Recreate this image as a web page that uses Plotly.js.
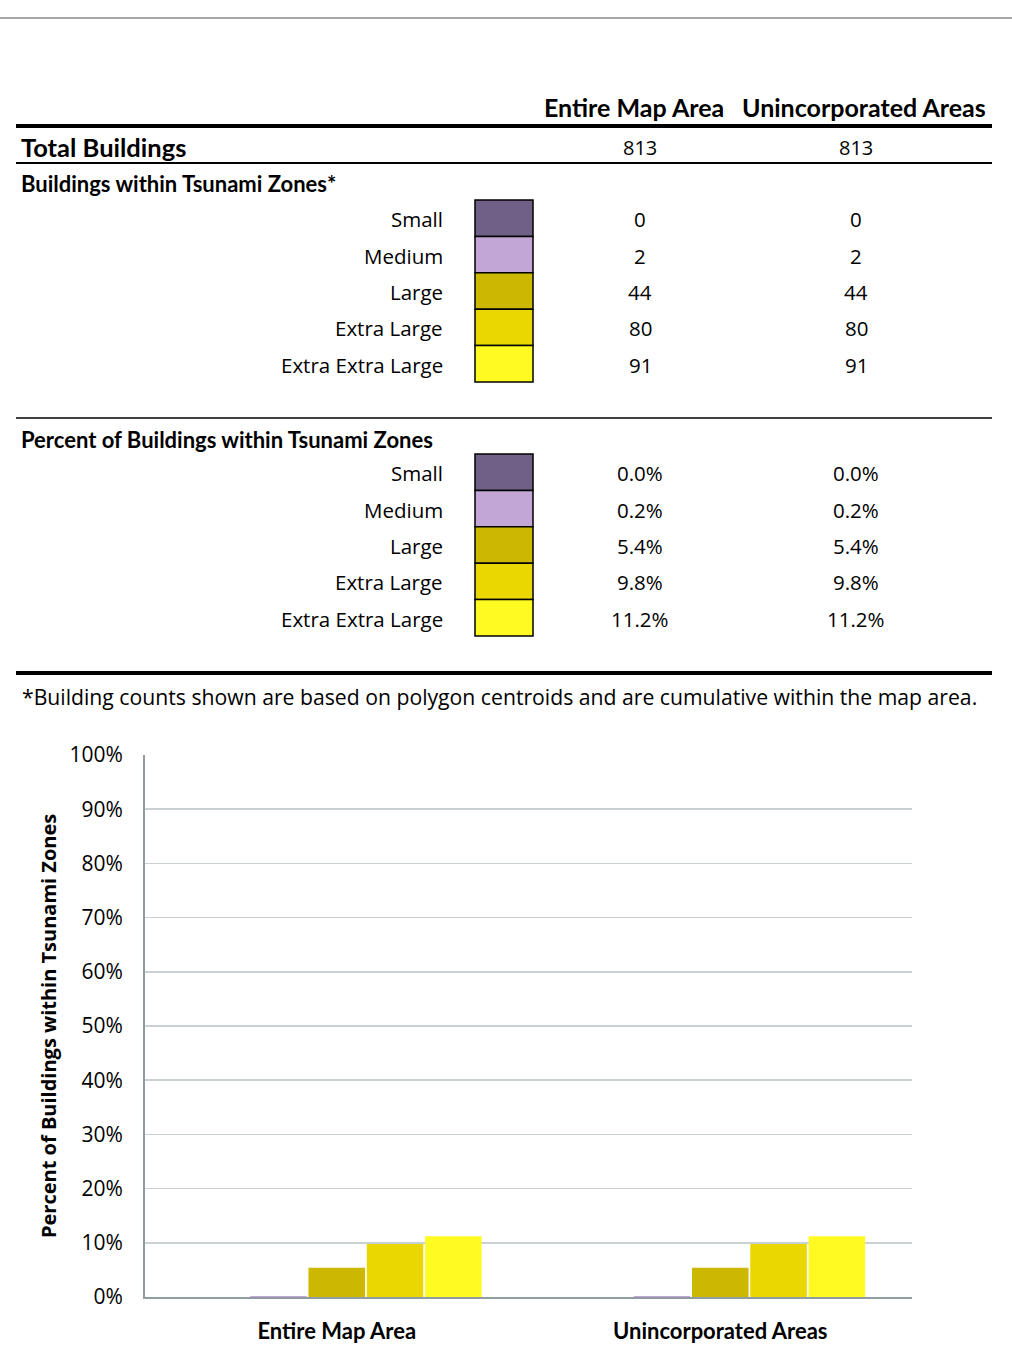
<!DOCTYPE html>
<html>
<head>
<meta charset="utf-8">
<script src="https://cdn.plot.ly/plotly-3.0.1.min.js"></script>
<style>html,body{margin:0;padding:0;background:#fff;}#chart{width:1012px;height:1347px;}</style>
</head>
<body>
<div id="chart"></div>
<script>
// ---- data ----
const areas = ["Entire Map Area", "Unincorporated Areas"];
const sizes = ["Small", "Medium", "Large", "Extra Large", "Extra Extra Large"];
const sizeColors = ["#705F87", "#C2A7D6", "#CCB800", "#EAD600", "#FFFA22"];
const totalBuildings = [813, 813];
const countsEntire = [0, 2, 44, 80, 91];
const countsUninc = [0, 2, 44, 80, 91];
const pctEntire = [0.0, 0.2, 5.4, 9.8, 11.2];
const pctUninc = [0.0, 0.2, 5.4, 9.8, 11.2];
const yTicks = [0, 10, 20, 30, 40, 50, 60, 70, 80, 90, 100];

// ---- layout helpers (pixel -> paper) ----
const W = 1012, H = 1347;
const X = x => x / W;
const Y = y => 1 - y / H;
const BOLD = "Lato, 'Open Sans', sans-serif";
const REG = "'Open Sans', Lato, sans-serif";

const traces = sizes.map((s, i) => ({
  type: "bar",
  name: s,
  x: areas,
  y: [pctEntire[i], pctUninc[i]],
  marker: { color: sizeColors[i] },
  hoverinfo: "x+y+name"
}));

const shapes = [];
const annotations = [];
function hline(y, x0, x1, w, c) {
  shapes.push({ type: "line", xref: "paper", yref: "paper", x0: X(x0), x1: X(x1), y0: Y(y), y1: Y(y), line: { color: c, width: w } });
}
function txt(text, x, y, size, anchor, bold, extra, fam) {
  annotations.push(Object.assign({
    xref: "paper", yref: "paper", x: X(x), y: Y(y), text: text, showarrow: false,
    xanchor: anchor, yanchor: "middle", borderpad: 0,
    font: { family: fam || (bold ? BOLD : REG), size: size, color: "#000", weight: bold ? "bold" : "normal" }
  }, extra || {}));
}

hline(18, 0, 1012, 1.5, "#8a8a8a");
txt(areas[0], 634, 107, 25, "center", true);
txt(areas[1], 864, 107, 25, "center", true);
hline(126, 16, 992, 4, "#000");
txt("Total Buildings", 20, 147, 25.5, "left", true);
txt(String(totalBuildings[0]), 640, 148, 20, "center", false);
txt(String(totalBuildings[1]), 856, 148, 20, "center", false);
hline(163, 16, 992, 2, "#000");
txt("Buildings within Tsunami Zones*", 20, 184, 22, "left", true);

function block(top, v1, v2) {
  const rh = 36.4;
  sizes.forEach((s, i) => {
    const cy = top + rh * i + rh / 2 + 1;
    shapes.push({ type: "rect", xref: "paper", yref: "paper", x0: X(475), x1: X(533), y0: Y(top + rh * i), y1: Y(top + rh * (i + 1)), fillcolor: sizeColors[i], line: { color: "#000", width: 1.5 } });
    txt(s, 444, cy, 20.5, "right", false);
    txt(v1[i], 640, cy, 20.5, "center", false);
    txt(v2[i], 856, cy, 20.5, "center", false);
  });
}
block(200, countsEntire.map(String), countsUninc.map(String));
hline(418, 16, 992, 1.5, "#000");
txt("Percent of Buildings within Tsunami Zones", 20, 439, 22, "left", true);
block(454, pctEntire.map(v => v.toFixed(1) + "%"), pctUninc.map(v => v.toFixed(1) + "%"));
hline(673, 16, 992, 4, "#000");
txt("*Building counts shown are based on polygon centroids and are cumulative within the map area.", 21, 696, 21.2, "left", false);

// y axis title
txt("Percent of Buildings within Tsunami Zones", 48, 1026, 20, "center", true, { textangle: -90 }, "'Open Sans', sans-serif");

const layout = {
  width: W, height: H,
  margin: { l: 0, r: 0, t: 0, b: 0 },
  paper_bgcolor: "#fff", plot_bgcolor: "#fff",
  showlegend: false,
  barmode: "group",
  bargap: 0.24,
  bargroupgap: 0.03,
  xaxis: {
    domain: [X(145), X(912)],
    anchor: "y",
    type: "category",
    showgrid: false,
    showline: true, linecolor: "#8f9ca2", linewidth: 2,
    ticks: "",
    ticklabelstandoff: 14,
    tickfont: { family: BOLD, size: 22, color: "#000", weight: "bold" },
    fixedrange: true
  },
  yaxis: {
    domain: [Y(1297), Y(755)],
    anchor: "x",
    range: [0, 100],
    tickvals: yTicks,
    ticktext: yTicks.map(v => v + "%"),
    showgrid: true, gridcolor: "#c9d1d4", gridwidth: 1.5,
    showline: true, linecolor: "#8f9ca2", linewidth: 2,
    zeroline: false,
    ticks: "",
    ticklabelstandoff: 16,
    tickfont: { family: REG, size: 21, color: "#000" },
    fixedrange: true
  },
  shapes: shapes,
  annotations: annotations
};

Plotly.newPlot("chart", traces, layout, { displayModeBar: false, staticPlot: true });
</script>
</body>
</html>
